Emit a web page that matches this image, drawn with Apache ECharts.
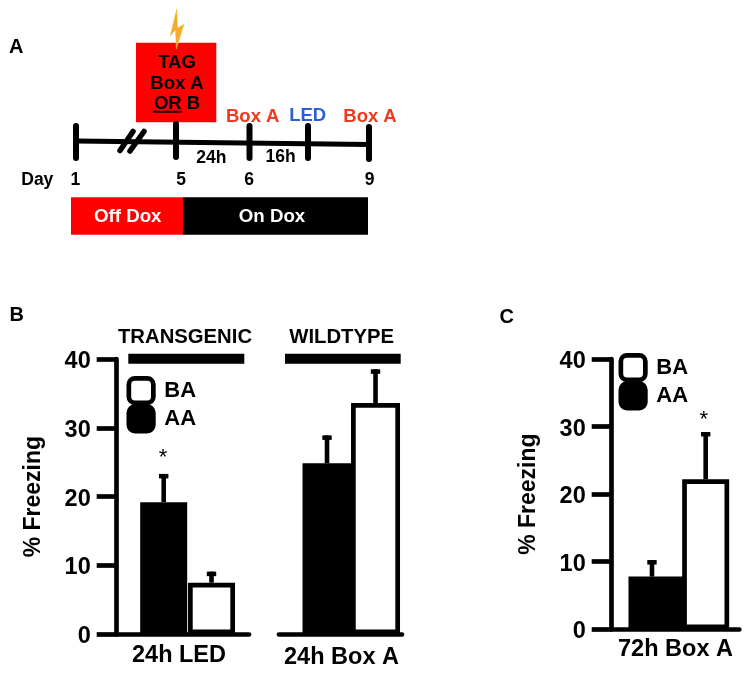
<!DOCTYPE html>
<html>
<head>
<meta charset="utf-8">
<style>html,body{margin:0;padding:0;background:#fff}#c{width:749px;height:673px}</style>
<script src="https://cdn.jsdelivr.net/npm/echarts@6/dist/echarts.min.js"></script>
</head>
<body>
<div id="c"></div>
<script>
// ---- data ----
var seriesNames = ['AA', 'BA'];
var transgenicLedMeans = [19.2, 7.5];
var transgenicLedTops = [23.3, 9.1];
var wildtypeBoxMeans = [24.85, 33.6];
var wildtypeBoxTops = [28.9, 38.5];
var boxA72hMeans = [7.8, 22.2];
var boxA72hTops = [10.25, 29.2];
var yTicks = [0, 10, 20, 30, 40];
var xTitles = ['24h LED', '24h Box A', '72h Box A'];
var groupTitles = ['TRANSGENIC', 'WILDTYPE'];
var yTitle = '% Freezing';

var FONT = '"Liberation Sans", Arial, sans-serif';
var chart = echarts.init(document.getElementById('c'));

// ---- panel layouts ----
var panels = [
  {left:116.7, right:249, top:359, bottom:634.3, min:-0.983, max:1.784, means:transgenicLedMeans, tops:transgenicLedTops, widths:[47,47], showY:true, nameGap:72, title:xTitles[0], pad:[1,7.7,0,0]},
  {left:279, right:402, top:359, bottom:634.3, min:-0.99, max:1.546, means:wildtypeBoxMeans, tops:wildtypeBoxTops, widths:[52,49], showY:false, title:xTitles[1], pad:[3,0,0,2]},
  {left:611.7, right:739.3, top:359, bottom:629.3, min:-0.75, max:1.626, means:boxA72hMeans, tops:boxA72hTops, widths:[56,47], showY:true, nameGap:72, title:xTitles[2], pad:[0,0,0,0]}
];

var grids=[], xAxes=[], yAxes=[], series=[];
panels.forEach(function(p,i){
  grids.push({left:p.left, top:p.top, width:p.right-p.left, height:p.bottom-p.top});
  xAxes.push({
    type:'value', gridIndex:i, min:p.min, max:p.max,
    axisLine:{show:true, onZero:false, lineStyle:{color:'#000', width:4.7}},
    axisTick:{show:false}, axisLabel:{show:false}, splitLine:{show:false},
    name:p.title, nameLocation:'middle', nameGap:8,
    nameTextStyle:{color:'#000', fontFamily:FONT, fontWeight:'bold', fontSize:23.5, verticalAlign:'top', padding:p.pad}
  });
  yAxes.push({
    type:'value', gridIndex:i, min:yTicks[0], max:yTicks[yTicks.length-1], interval:10, show:p.showY,
    axisLine:{show:true, onZero:false, lineStyle:{color:'#000', width:4.7}},
    axisTick:{show:true, length:20, lineStyle:{color:'#000', width:4.7}},
    axisLabel:{margin:26, formatter:'{n|{value}}',
      rich:{n:{color:'#000', fontFamily:FONT, fontWeight:'bold', fontSize:23.5, padding:[5,0,0,0]}}},
    splitLine:{show:false},
    name:yTitle, nameLocation:'middle', nameGap:p.nameGap, nameRotate:90,
    nameTextStyle:{color:'#000', fontFamily:FONT, fontWeight:'bold', fontSize:23}
  });
  seriesNames.forEach(function(nm,k){
    var isBA = nm==='BA';
    series.push({
      type:'bar', name:nm, xAxisIndex:i, yAxisIndex:i, barWidth:p.widths[k], barGap:'-100%',
      data:[[k,p.means[k]]], clip:false, z:2,
      itemStyle:isBA?{color:'#fff', borderColor:'#000', borderWidth:4.7}:{color:'#000'},
      silent:true
    });
  });
  series.push({
    type:'custom', xAxisIndex:i, yAxisIndex:i, clip:false, z:1, silent:true,
    data:p.means.map(function(m,k){return [k,m,p.tops[k]];}),
    encode:{x:0,y:[1,2]},
    renderItem:function(params,api){
      var lo=api.coord([api.value(0),api.value(1)]);
      var hi=api.coord([api.value(0),api.value(2)]);
      return {type:'group',children:[
        {type:'rect',shape:{x:hi[0]-2.3,y:hi[1],width:4.6,height:lo[1]-hi[1]},style:{fill:'#000'}},
        {type:'rect',shape:{x:hi[0]-4.7,y:hi[1],width:9.4,height:4.5},style:{fill:'#000'}}
      ]};
    }
  });
});

function legend(left,top){
  return {
    left:left, top:top, orient:'vertical', padding:0, itemWidth:24.5, itemHeight:24.5, itemGap:-1,
    selectedMode:false, icon:'roundRect',
    textStyle:{color:'#000', fontFamily:FONT, fontWeight:'bold', fontSize:22, padding:[0,0,0,6]},
    data:[
      {name:'BA', itemStyle:{color:'#fff',borderColor:'#000',borderWidth:4.7}},
      {name:'AA', itemStyle:{color:'#000',borderColor:'#000',borderWidth:4.7}}
    ]
  };
}

// ---- panel A schematic and annotations ----
function txt(s,x,y,size,fill,weight){
  return {type:'text',x:x,y:y+1,silent:true,z:10,style:{text:s,fill:fill||'#000',font:(weight||'bold')+' '+size+'px '+FONT,textAlign:'center',textVerticalAlign:'middle'}};
}
function seg(x1,y1,x2,y2,w){
  return {type:'line',silent:true,z:5,shape:{x1:x1,y1:y1,x2:x2,y2:y2},style:{stroke:'#000',lineWidth:w,lineCap:'round'}};
}
function box(x,y,w,h,fill,z){
  return {type:'rect',silent:true,z:z||3,shape:{x:x,y:y,width:w,height:h},style:{fill:fill}};
}
var RED='#ee3a1d', BLUE='#2d5fd0';
var graphic=[
  box(136,42.7,80.3,79.6,'#fe0000'),
  {type:'polygon',silent:true,z:6,shape:{points:[[176.7,9],[170.3,35.7],[175.5,30],[176.3,49],[184,24.3],[177.5,28]]},style:{fill:'#f5ab2c',stroke:'#e8c040',lineWidth:0.5}},
  txt('TAG',177,62.3,18.5), txt('Box A',177,83.3,18.5), txt('OR B',177,103.3,18.5),
  box(152.7,110.7,29,2,'#000',11),
  seg(76,141,369,144.5,5),
  seg(76,126,76,158,6), seg(176,124,176,157,6), seg(249.5,126,249.5,158,6), seg(308,126,308,158,6), seg(369,127,369,159,6),
  seg(120,150.5,133,131.5,5.5), seg(130,151,144,131.5,5.5),
  txt('Box A',252.7,115.7,18.5,RED), txt('LED',307.7,114.7,18.5,BLUE), txt('Box A',370,116,18.5,RED),
  txt('24h',211.3,157.3,17.5), txt('16h',280.7,156.3,17.5),
  txt('Day',37.3,179,17.5), txt('1',75.3,179,17.5), txt('5',181,179,17.5), txt('6',249,179,17.5), txt('9',369.7,179,17.5),
  box(71,197.3,112,37.4,'#fe0000'), box(183,197.3,185,37.4,'#000'),
  txt('Off Dox',127.7,216,18.7,'#fff'), txt('On Dox',272,216,18.7,'#fff'),
  txt('A',16.3,46.7,20), txt('B',16.7,314,20), txt('C',506.7,316,20),
  box(128.3,353.7,116,10,'#000'), box(285,353.7,115.7,10,'#000'),
  txt(groupTitles[0],185,336.7,20.3), txt(groupTitles[1],341.7,336.7,20.3),
  txt('*',163,457,22,'#000','normal'), txt('*',703.7,419,22,'#000','normal')
];

chart.setOption({
  backgroundColor:'#fff', animation:false,
  grid:grids, xAxis:xAxes, yAxis:yAxes, series:series,
  legend:[legend(126.5,376), legend(618.5,353)],
  graphic:{elements:graphic}
});
</script>
</body>
</html>
